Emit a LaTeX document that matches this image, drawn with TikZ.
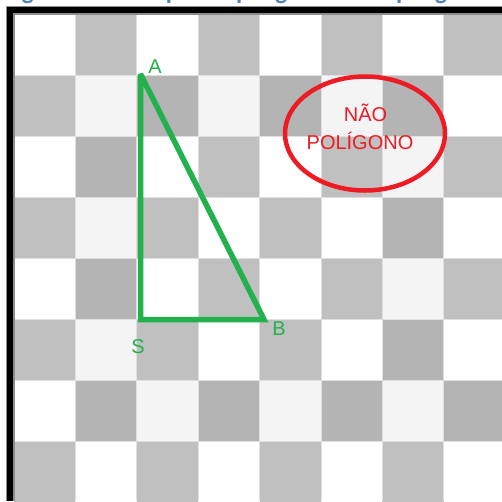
\documentclass[tikz,border=0pt]{standalone}
\usepackage{fontspec}
\setmainfont{Liberation Sans}
\newfontfamily\capfont{Carlito}
\usetikzlibrary{shapes.geometric}
\definecolor{cW}{HTML}{FFFFFF}
\definecolor{cL}{HTML}{F4F4F4}
\definecolor{cG}{HTML}{C0C0C0}
\definecolor{cD}{HTML}{B4B4B4}
\definecolor{capblue}{HTML}{4F81BD}
\definecolor{trigreen}{HTML}{22B14C}
\definecolor{ovalred}{HTML}{ED1C24}
\tikzset{
  cellbox/.style={draw=none},
  gridline/.style={draw=black!12, line width=1},
  tri/.style={draw=trigreen, line width=5.5, line join=miter, miter limit=2.5},
  ptlabel/.style={text=trigreen, font=\fontsize{20}{24}\selectfont, inner sep=0, anchor=base},
  ovaltext/.style={text=ovalred, font=\fontsize{20}{24}\selectfont, inner sep=0, anchor=base},
  oval/.style={draw=ovalred, line width=4.5, ellipse, minimum width=160, minimum height=114, inner sep=0}
}
\begin{document}
\begin{tikzpicture}[x=1pt,y=-1pt]
\useasboundingbox (0,0) rectangle (502,501);
\fill[white] (0,0) rectangle (502,501);
\begin{scope}
\clip (0,0) rectangle (502,501);
\foreach \r/\row in {0/{W,G,W,G,W,G,W,G},1/{G,L,D,L,D,L,D,W},2/{W,D,W,G,W,G,L,G},3/{G,L,G,W,G,W,D,W},4/{W,D,W,G,W,G,L,G},5/{G,L,G,W,G,W,D,W},6/{W,D,L,D,L,D,L,D},7/{G,W,G,W,G,W,G,W}}{
  \foreach \c [count=\n from 0] in \row {
    \fill[c\c] ({14+61.4*\n},{14+61*\r}) rectangle ({14+61.4*(\n+1)},{14+61*(\r+1)});
  }
}
\foreach \n in {1,...,7}{
  \draw[gridline] ({14+61.4*\n},14) -- ({14+61.4*\n},501);
  \draw[gridline] (14,{14+61*\n}) -- (502,{14+61*\n});
}
\node[anchor=base west, font=\capfont\bfseries\fontsize{25}{30}\selectfont, text=capblue, inner sep=0] (title) at (4,-0.5) {Figura 3 – Exemplo de polígono e não polígono};
\end{scope}
\draw[line width=9, black!45, line join=miter] (10,501) -- (10,10) -- (502,10);
\draw[line width=6, black, line join=miter] (10,501) -- (10,10) -- (502,10);
% triangle
\coordinate (A) at (140.5,74);
\coordinate (S) at (140.5,319.5);
\coordinate (B) at (264,319.5);
\draw[tri] (A) -- (B) -- (S) -- cycle;
\node[ptlabel] (labA) at (155,73) {A};
\node[ptlabel] (labS) at (138,353) {S};
\node[ptlabel] (labB) at (279,335) {B};
% oval
\node[oval] (np) at (365,133.5) {};
\node[ovaltext] (t1) at (365.5,121) {NÃO};
\node[ovaltext] (t2) at (360,149) {POLÍGONO};
\end{tikzpicture}
\end{document}
